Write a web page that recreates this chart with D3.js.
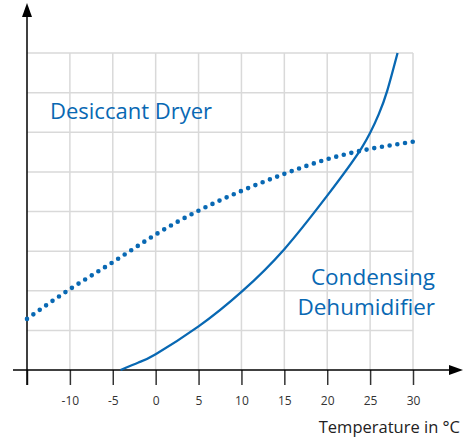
<!DOCTYPE html>
<html>
<head>
<meta charset="utf-8">
<script src="https://cdn.jsdelivr.net/npm/d3@7"></script>
<style>
  body { margin: 0; background: #fff; }
  svg { display: block; font-family: "Open Sans", sans-serif; }
</style>
</head>
<body>
<svg id="chart" width="465" height="438"></svg>
<script>
// temperature ticks (°C)
const tickValues = [-15, -10, -5, 0, 5, 10, 15, 20, 25, 30];
const gridRows = [1, 2, 3, 4, 5, 6, 7, 8];

// desiccant dryer (dotted)
const dryerTemp = [-15, -10, -5, 0, 5, 10, 15, 20, 25, 30];
const dryerVal = [1.29, 2.04, 2.72, 3.42, 4.02, 4.52, 4.95, 5.32, 5.58, 5.76];

// condensing dehumidifier (solid)
const condTemp = [-4.1, -2, 0, 5, 10, 15, 20, 24, 26, 27, 28.2];
const condVal = [0, 0.19, 0.4, 1.1, 1.97, 3.05, 4.4, 5.6, 6.45, 7.05, 8.0];

const blue = "#0868b3";
const svg = d3.select("#chart");

const x = d3.scaleLinear().domain([-15, 30]).range([27, 413]);
const y = d3.scaleLinear().domain([0, 8]).range([370, 53]);

// grid
svg.append("g").selectAll("line")
  .data(gridRows).enter().append("line")
  .attr("x1", x(-15)).attr("x2", x(30))
  .attr("y1", d => y(d)).attr("y2", d => y(d))
  .style("stroke", "#d9d9d9").style("stroke-width", 1.5);

svg.append("g").selectAll("line")
  .data(tickValues.slice(1)).enter().append("line")
  .attr("x1", d => x(d)).attr("x2", d => x(d))
  .attr("y1", y(0)).attr("y2", y(8))
  .style("stroke", "#d9d9d9").style("stroke-width", 1.5);

// x axis with ticks below
const xAxis = svg.append("g")
  .attr("transform", `translate(0,${y(0)})`)
  .call(d3.axisBottom(x).tickValues(tickValues).tickSize(15)
    .tickFormat(d => d === -15 ? "" : d));
xAxis.select(".domain").remove();
xAxis.selectAll(".tick line").style("stroke", "#333").style("stroke-width", 1.5);
xAxis.selectAll(".tick text")
  .attr("y", 26).attr("dy", "0.71em")
  .style("font-size", "12px").style("fill", "#333")
  .style("font-family", "'Open Sans', sans-serif");

svg.append("line")
  .attr("x1", 13).attr("x2", 452)
  .attr("y1", y(0)).attr("y2", y(0))
  .style("stroke", "#000").style("stroke-width", 1.5);
svg.append("path")
  .attr("d", `M463,${y(0)} L449,${y(0) - 5} L449,${y(0) + 5} Z`)
  .style("fill", "#000");

// y axis with arrow
svg.append("line")
  .attr("x1", x(-15)).attr("x2", x(-15))
  .attr("y1", 385).attr("y2", 14)
  .style("stroke", "#000").style("stroke-width", 1.5);
svg.append("path")
  .attr("d", `M${x(-15)},3 L${x(-15) - 5},17 L${x(-15) + 5},17 Z`)
  .style("fill", "#000");

// curves
const line = d3.line().curve(d3.curveNatural)
  .x(d => x(d[0])).y(d => y(d[1]));

svg.append("path")
  .datum(condTemp.map((t, i) => [t, condVal[i]]))
  .attr("d", line)
  .style("fill", "none").style("stroke", blue).style("stroke-width", 2.3);

svg.append("path")
  .datum(dryerTemp.map((t, i) => [t, dryerVal[i]]))
  .attr("d", line)
  .style("fill", "none").style("stroke", blue)
  .style("stroke-width", 4.6)
  .style("stroke-linecap", "round")
  .style("stroke-dasharray", "0 7.8");

// labels
svg.append("text")
  .attr("x", 50).attr("y", 119)
  .text("Desiccant Dryer")
  .style("font-size", "22px").style("fill", blue);

svg.append("text")
  .attr("x", 435).attr("y", 285)
  .attr("text-anchor", "end")
  .text("Condensing")
  .style("font-size", "22.5px").style("fill", blue);

svg.append("text")
  .attr("x", 435).attr("y", 315)
  .attr("text-anchor", "end")
  .text("Dehumidifier")
  .style("font-size", "22.5px").style("fill", blue);

svg.append("text")
  .attr("x", 460).attr("y", 433)
  .attr("text-anchor", "end")
  .text("Temperature in °C")
  .style("font-size", "16.5px").style("fill", "#222");
</script>
</body>
</html>
